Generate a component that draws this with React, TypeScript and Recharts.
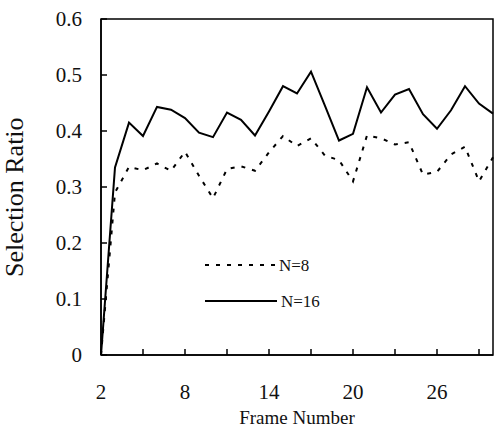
import React from 'react';
import { LineChart, Line, XAxis, YAxis, ReferenceArea, Legend } from 'recharts';

const frames = [2, 3, 4, 5, 6, 7, 8, 9, 10, 11, 12, 13, 14, 15, 16, 17, 18, 19, 20, 21, 22, 23, 24, 25, 26, 27, 28, 29, 30];
const n8 = [0, 0.29, 0.336, 0.33, 0.342, 0.329, 0.363, 0.32, 0.28, 0.332, 0.337, 0.329, 0.362, 0.391, 0.373, 0.387, 0.356, 0.348, 0.31, 0.392, 0.387, 0.376, 0.38, 0.322, 0.327, 0.358, 0.372, 0.31, 0.353];
const n16 = [0, 0.335, 0.415, 0.391, 0.443, 0.438, 0.423, 0.397, 0.389, 0.433, 0.42, 0.392, 0.435, 0.48, 0.467, 0.506, 0.445, 0.383, 0.395, 0.478, 0.433, 0.465, 0.475, 0.43, 0.404, 0.437, 0.48, 0.449, 0.431];
const xTicks = [2, 5, 8, 11, 14, 17, 20, 23, 26, 29];
const xLabels = [2, 8, 14, 20, 26];
const yTicks = [0, 0.1, 0.2, 0.3, 0.4, 0.5, 0.6];

const data = frames.map((f, i) => ({ frame: f, n8: n8[i], n16: n16[i] }));

const font = '"Liberation Serif", "Times New Roman", serif';

const XTick = ({ x, y, payload }: any) => (
  <g>
    <line x1={x} y1={y} x2={x} y2={y - 6} stroke="#000" strokeWidth={1.5} />
    {xLabels.includes(payload.value) && (
      <text x={x} y={y + 44} textAnchor="middle" fontSize={21} fontFamily={font} fill="#111">
        {payload.value}
      </text>
    )}
  </g>
);

const YTick = ({ x, y, payload }: any) => (
  <g>
    <line x1={x} y1={y} x2={x + 6} y2={y} stroke="#000" strokeWidth={1.5} />
    <text x={x - 19} y={y + 7} textAnchor="end" fontSize={21} fontFamily={font} fill="#111">
      {payload.value === 0 ? '0' : payload.value.toFixed(1)}
    </text>
  </g>
);

const LegendBox = () => (
  <svg width={120} height={56}>
    <line x1={0} y1={10} x2={72} y2={10} stroke="#000" strokeWidth={2} strokeDasharray="4 7" />
    <text x={74} y={16} fontSize={17} fontFamily={font} fill="#111">N=8</text>
    <line x1={0} y1={46} x2={72} y2={46} stroke="#000" strokeWidth={2} />
    <text x={76} y={52} fontSize={17} fontFamily={font} fill="#111">N=16</text>
  </svg>
);

export default function App() {
  return (
    <div style={{ position: 'absolute', left: 0, top: 0, background: '#fff' }}>
      <LineChart width={500} height={434} data={data} margin={{ top: 19, right: 7, left: 0, bottom: 0 }}>
        <XAxis
          dataKey="frame"
          type="number"
          domain={[2, 30]}
          ticks={xTicks}
          interval={0}
          height={79}
          tickSize={0}
          tickMargin={0}
          tickLine={false}
          axisLine={{ stroke: '#000', strokeWidth: 1.5 }}
          tick={<XTick />}
          label={{ value: 'Frame Number', position: 'insideBottom', offset: 10, fontSize: 19, fontFamily: font, fill: '#111' }}
        />
        <YAxis
          type="number"
          domain={[0, 0.6]}
          ticks={yTicks}
          width={101}
          tickSize={0}
          tickMargin={0}
          tickLine={false}
          axisLine={{ stroke: '#000', strokeWidth: 1.5 }}
          tick={<YTick />}
          label={{ value: 'Selection Ratio', angle: -90, position: 'insideLeft', offset: 14, dy: 90, fontSize: 26, fontFamily: font, fill: '#111' }}
        />
        <ReferenceArea x1={2} x2={30} y1={0} y2={0.6} fill="none" stroke="#000" strokeWidth={1.5} />
        <Legend
          layout="vertical"
          verticalAlign="middle"
          align="center"
          wrapperStyle={{ left: 205, top: 255, width: 120 }}
          content={<LegendBox />}
        />
        <Line type="linear" dataKey="n8" stroke="#000" strokeWidth={2} strokeDasharray="4 7" dot={false} isAnimationActive={false} />
        <Line type="linear" dataKey="n16" stroke="#000" strokeWidth={2} dot={false} isAnimationActive={false} />
      </LineChart>
    </div>
  );
}
